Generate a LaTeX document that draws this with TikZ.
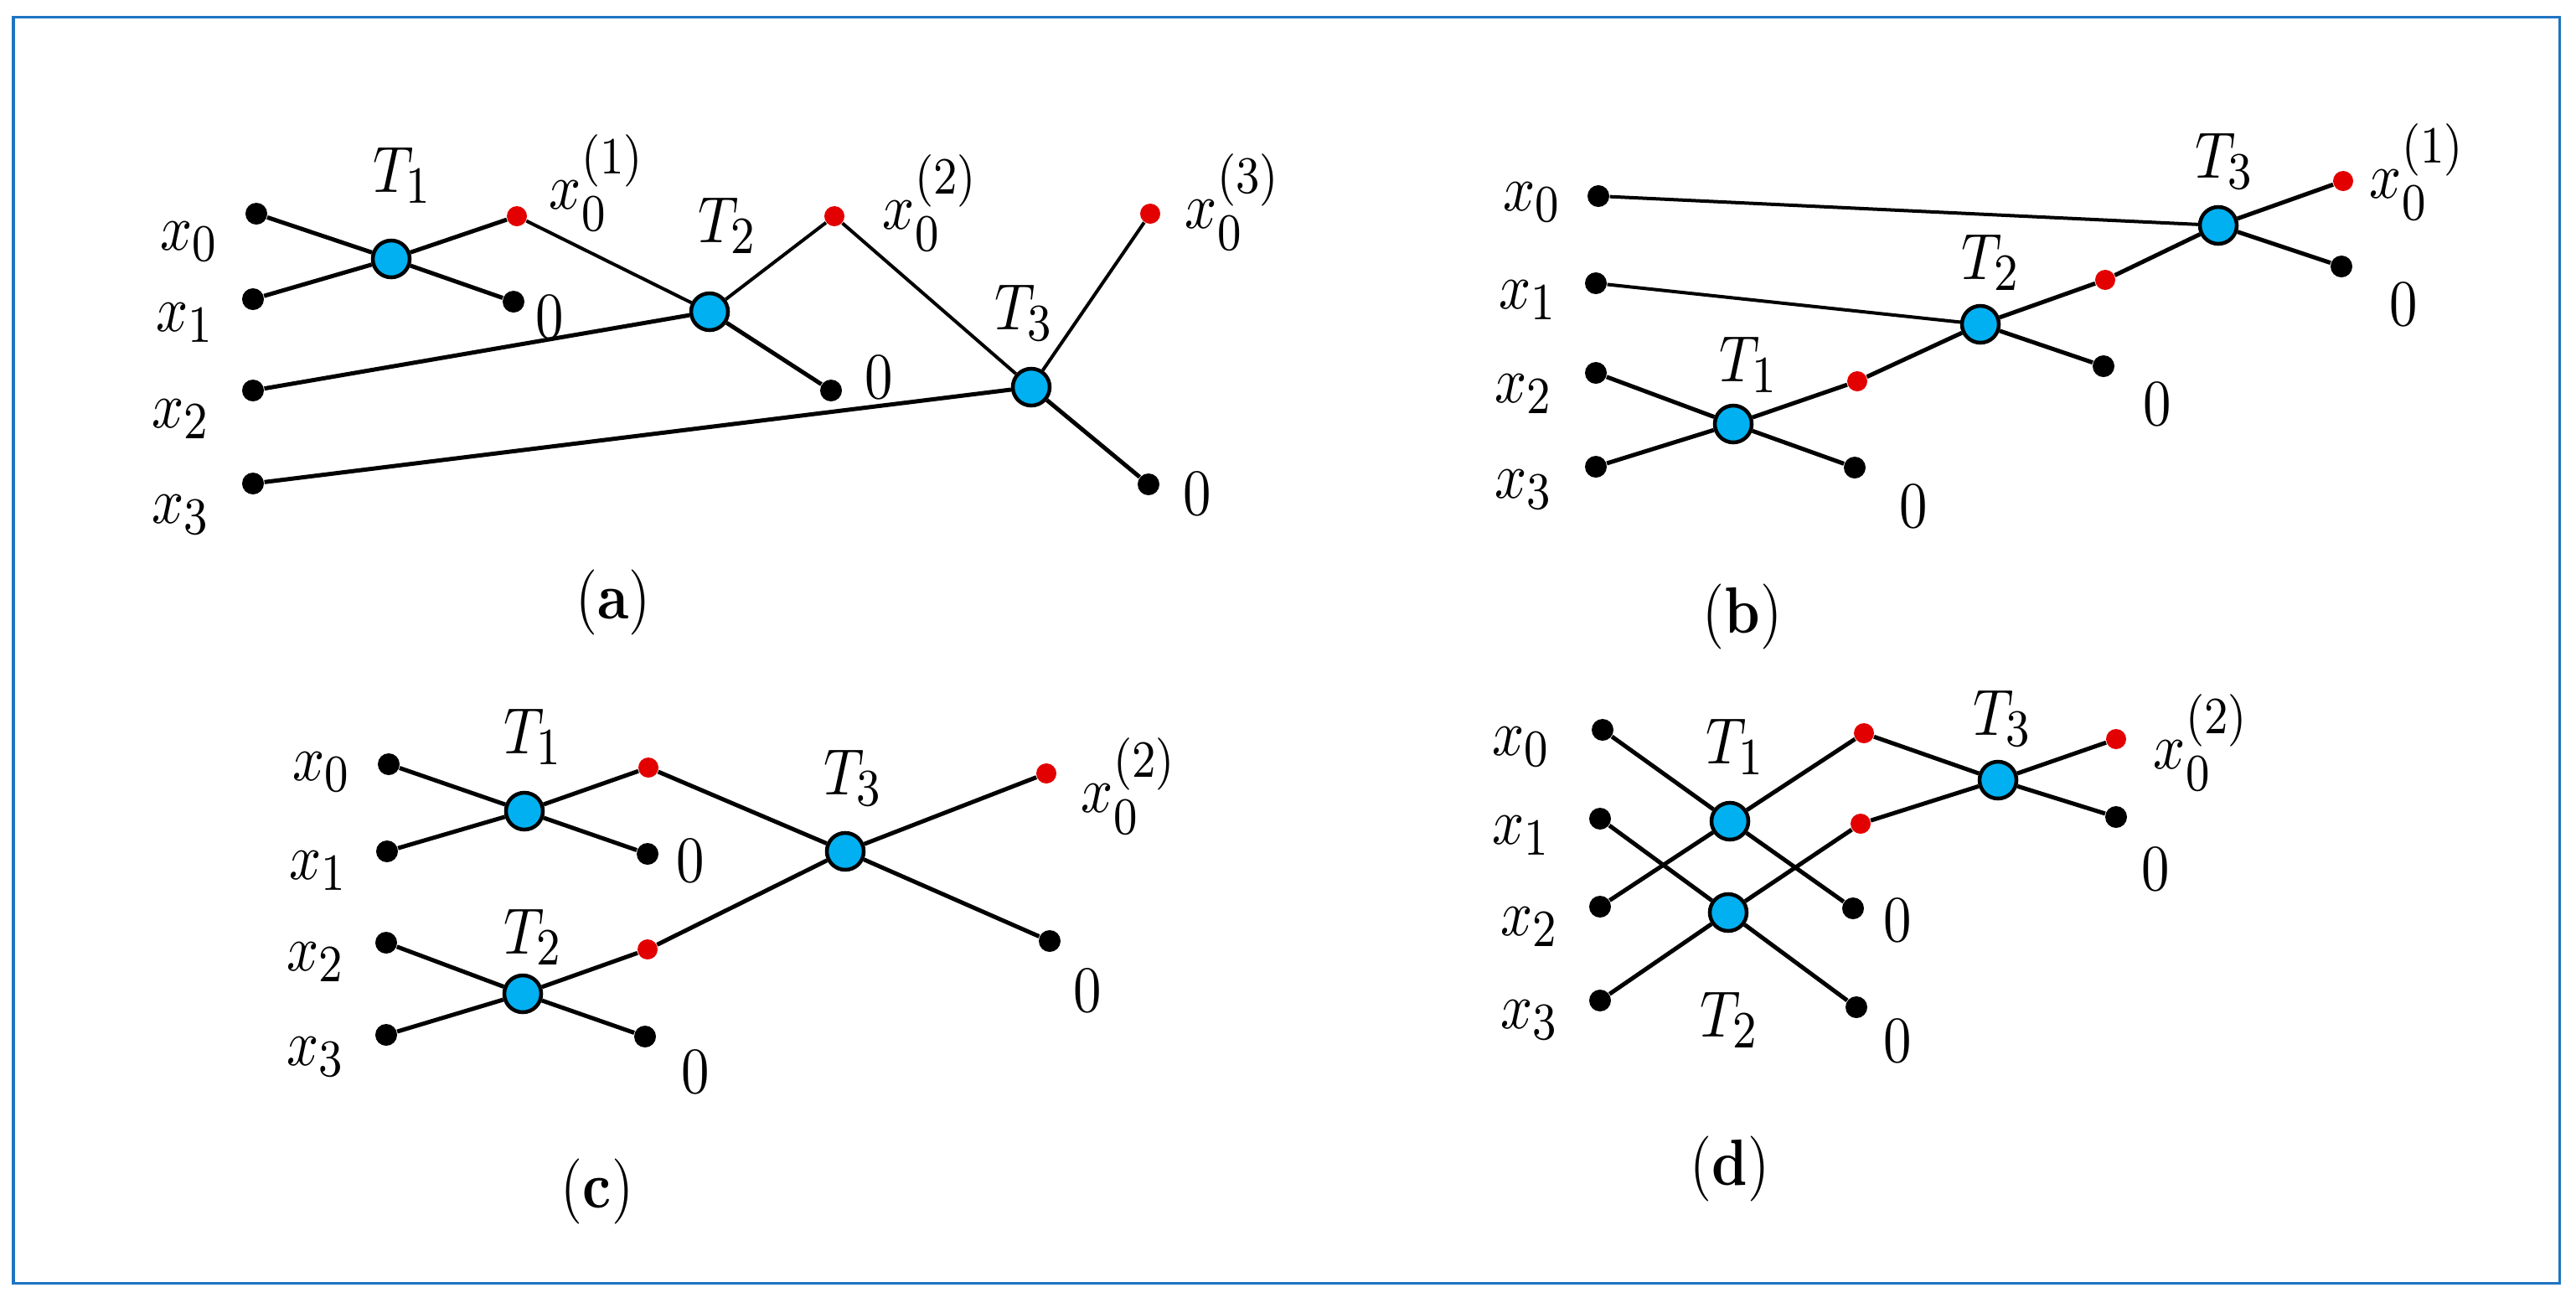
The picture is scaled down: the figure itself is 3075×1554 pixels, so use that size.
\documentclass[tikz,border=0pt]{standalone}
\usepackage{graphicx}
\DeclareMathSizes{10}{10}{8}{6}
\definecolor{framec}{RGB}{30,116,194}
\definecolor{nodec}{RGB}{0,176,240}
\definecolor{redc}{RGB}{226,0,0}
\newcommand{\lbl}[1]{\scalebox{1.9}[2.22]{$#1$}}
\newcommand{\pancap}[1]{\scalebox{1.9}[2.22]{(\textbf{#1})}}
\tikzset{
  bdot/.style={circle,fill=black,inner sep=0pt,minimum size=0.26cm},
  rdot/.style={circle,fill=redc,inner sep=0pt,minimum size=0.24cm},
  tnode/.style={circle,fill=nodec,draw=black,line width=0.045cm,inner sep=0pt,minimum size=0.44cm},
  wire/.style={line width=0.05cm},
  thinwire/.style={line width=0.04cm},
  lab/.style={inner sep=0pt},
}
\begin{document}
\begin{tikzpicture}[x=0.01cm,y=-0.01cm]
\useasboundingbox (0,0) rectangle (3075,1554);
\draw[framec,line width=0.03cm] (16,20) rectangle (3055,1531);

% ---------- (a) ----------
\node[bdot] (a0) at (306,255) {};
\node[bdot] (a1) at (302,357) {};
\node[bdot] (a2) at (302,466) {};
\node[bdot] (a3) at (302,577) {};
\node[tnode] (aT1) at (467,309) {};
\node[tnode] (aT2) at (847,372) {};
\node[tnode] (aT3) at (1231,462) {};
\node[rdot] (ar1) at (617,258) {};
\node[rdot] (ar2) at (996,258) {};
\node[rdot] (ar3) at (1373,255) {};
\node[bdot] (az1) at (613,360) {};
\node[bdot] (az2) at (992,466) {};
\node[bdot] (az3) at (1371,578) {};
\draw[wire] (a0) -- (aT1);
\draw[wire] (aT1) -- (az1);
\draw[wire] (a1) -- (aT1);
\draw[wire] (aT1) -- (ar1);
\draw[thinwire] (ar1) -- (aT2);
\draw[wire] (a2) -- (aT2);
\draw[thinwire] (aT2) -- (ar2);
\draw[wire] (aT2) -- (az2);
\draw[thinwire] (ar2) -- (aT3);
\draw[wire] (a3) -- (aT3);
\draw[thinwire] (aT3) -- (ar3);
\draw[wire] (aT3) -- (az3);
\node[lab] (alx0) at (226,288) {\lbl{x_0}};
\node[lab] (alx1) at (221,385) {\lbl{x_1}};
\node[lab] (alx2) at (216,500) {\lbl{x_2}};
\node[lab] (alx3) at (216,614) {\lbl{x_3}};
\node[lab] (alT1) at (481,209) {\lbl{T_1}};
\node[lab] (alT2) at (869,269) {\lbl{T_2}};
\node[lab] (alT3) at (1223,373) {\lbl{T_3}};
\node[lab] (alr1) at (713,218) {\lbl{x_0^{(1)}}};
\node[lab] (alr2) at (1111,242) {\lbl{x_0^{(2)}}};
\node[lab] (alr3) at (1472,241) {\lbl{x_0^{(3)}}};
\node[lab] (alz1) at (656,378) {\lbl{0}};
\node[lab] (alz2) at (1049,450) {\lbl{0}};
\node[lab] (alz3) at (1429,589) {\lbl{0}};
\node[lab] (acap) at (732,719) {\pancap{a}};

% ---------- (b) ----------
\node[bdot] (b0) at (1908,234) {};
\node[bdot] (b1) at (1905,338) {};
\node[bdot] (b2) at (1905,445) {};
\node[bdot] (b3) at (1905,557) {};
\node[tnode] (bT1) at (2069,506) {};
\node[tnode] (bT2) at (2364,387) {};
\node[tnode] (bT3) at (2648,269) {};
\node[rdot] (br1) at (2217,455) {};
\node[rdot] (br2) at (2513,334) {};
\node[rdot] (br3) at (2797,216) {};
\node[bdot] (bz1) at (2214,558) {};
\node[bdot] (bz2) at (2511,437) {};
\node[bdot] (bz3) at (2795,318) {};
\draw[wire] (b2) -- (bT1);
\draw[wire] (b3) -- (bT1);
\draw[wire] (bT1) -- (bz1);
\draw[wire] (bT1) -- (br1);
\draw[wire] (br1) -- (bT2);
\draw[thinwire] (b1) -- (bT2);
\draw[wire] (bT2) -- (bz2);
\draw[wire] (bT2) -- (br2);
\draw[wire] (br2) -- (bT3);
\draw[thinwire] (b0) -- (bT3);
\draw[wire] (bT3) -- (bz3);
\draw[wire] (bT3) -- (br3);
\node[lab] (blx0) at (1829,241) {\lbl{x_0}};
\node[lab] (blx1) at (1824,358) {\lbl{x_1}};
\node[lab] (blx2) at (1819,470) {\lbl{x_2}};
\node[lab] (blx3) at (1819,584) {\lbl{x_3}};
\node[lab] (blT1) at (2088,435) {\lbl{T_1}};
\node[lab] (blT2) at (2377,313) {\lbl{T_2}};
\node[lab] (blT3) at (2656,192) {\lbl{T_3}};
\node[lab] (blr3) at (2886,205) {\lbl{x_0^{(1)}}};
\node[lab] (blz1) at (2284,604) {\lbl{0}};
\node[lab] (blz2) at (2575,482) {\lbl{0}};
\node[lab] (blz3) at (2869,363) {\lbl{0}};
\node[lab] (bcap) at (2080,736) {\pancap{b}};

% ---------- (c) ----------
\node[bdot] (c0) at (464,912) {};
\node[bdot] (c1) at (462,1016) {};
\node[bdot] (c2) at (461,1125) {};
\node[bdot] (c3) at (461,1235) {};
\node[tnode] (cT1) at (626,968) {};
\node[tnode] (cT2) at (624,1186) {};
\node[tnode] (cT3) at (1009,1016) {};
\node[rdot] (cr1) at (774,916) {};
\node[rdot] (cr2) at (773,1133) {};
\node[rdot] (cr3) at (1249,923) {};
\node[bdot] (cz1) at (773,1019) {};
\node[bdot] (cz2) at (770,1237) {};
\node[bdot] (cz3) at (1253,1123) {};
\draw[wire] (c0) -- (cT1);
\draw[wire] (cT1) -- (cz1);
\draw[wire] (c1) -- (cT1);
\draw[wire] (cT1) -- (cr1);
\draw[wire] (cr1) -- (cT3);
\draw[wire] (c2) -- (cT2);
\draw[wire] (cT2) -- (cz2);
\draw[wire] (c3) -- (cT2);
\draw[wire] (cT2) -- (cr2);
\draw[wire] (cr2) -- (cT3);
\draw[wire] (cT3) -- (cr3);
\draw[wire] (cT3) -- (cz3);
\node[lab] (clx0) at (384,921) {\lbl{x_0}};
\node[lab] (clx1) at (380,1039) {\lbl{x_1}};
\node[lab] (clx2) at (377,1148) {\lbl{x_2}};
\node[lab] (clx3) at (377,1261) {\lbl{x_3}};
\node[lab] (clT1) at (637,879) {\lbl{T_1}};
\node[lab] (clT2) at (637,1118) {\lbl{T_2}};
\node[lab] (clT3) at (1019,928) {\lbl{T_3}};
\node[lab] (clr3) at (1348,938) {\lbl{x_0^{(2)}}};
\node[lab] (clz1) at (824,1027) {\lbl{0}};
\node[lab] (clz2) at (830,1279) {\lbl{0}};
\node[lab] (clz3) at (1298,1182) {\lbl{0}};
\node[lab] (ccap) at (713,1422) {\pancap{c}};

% ---------- (d) ----------
\node[bdot] (d0) at (1913,871) {};
\node[bdot] (d1) at (1910,977) {};
\node[bdot] (d2) at (1910,1082) {};
\node[bdot] (d3) at (1910,1194) {};
\node[tnode] (dT1) at (2065,980) {};
\node[tnode] (dT2) at (2063,1089) {};
\node[tnode] (dT3) at (2385,931) {};
\node[rdot] (dr1) at (2225,875) {};
\node[rdot] (dr2) at (2221,983) {};
\node[rdot] (dr3) at (2526,882) {};
\node[bdot] (dz1) at (2212,1084) {};
\node[bdot] (dz2) at (2216,1202) {};
\node[bdot] (dz3) at (2526,975) {};
\draw[wire] (d0) -- (dT1);
\draw[wire] (dT1) -- (dz1);
\draw[wire] (d2) -- (dT1);
\draw[wire] (dT1) -- (dr1);
\draw[wire] (d1) -- (dT2);
\draw[wire] (dT2) -- (dz2);
\draw[wire] (d3) -- (dT2);
\draw[wire] (dT2) -- (dr2);
\draw[wire] (dr1) -- (dT3);
\draw[wire] (dr2) -- (dT3);
\draw[wire] (dT3) -- (dr3);
\draw[wire] (dT3) -- (dz3);
\node[lab] (dlx0) at (1816,891) {\lbl{x_0}};
\node[lab] (dlx1) at (1816,997) {\lbl{x_1}};
\node[lab] (dlx2) at (1826,1106) {\lbl{x_2}};
\node[lab] (dlx3) at (1826,1217) {\lbl{x_3}};
\node[lab] (dlT1) at (2072,891) {\lbl{T_1}};
\node[lab] (dlT2) at (2065,1217) {\lbl{T_2}};
\node[lab] (dlT3) at (2391,857) {\lbl{T_3}};
\node[lab] (dlr3) at (2628,886) {\lbl{x_0^{(2)}}};
\node[lab] (dlz1) at (2265,1098) {\lbl{0}};
\node[lab] (dlz2) at (2265,1242) {\lbl{0}};
\node[lab] (dlz3) at (2573,1037) {\lbl{0}};
\node[lab] (dcap) at (2065,1395) {\pancap{d}};
\end{tikzpicture}
\end{document}
